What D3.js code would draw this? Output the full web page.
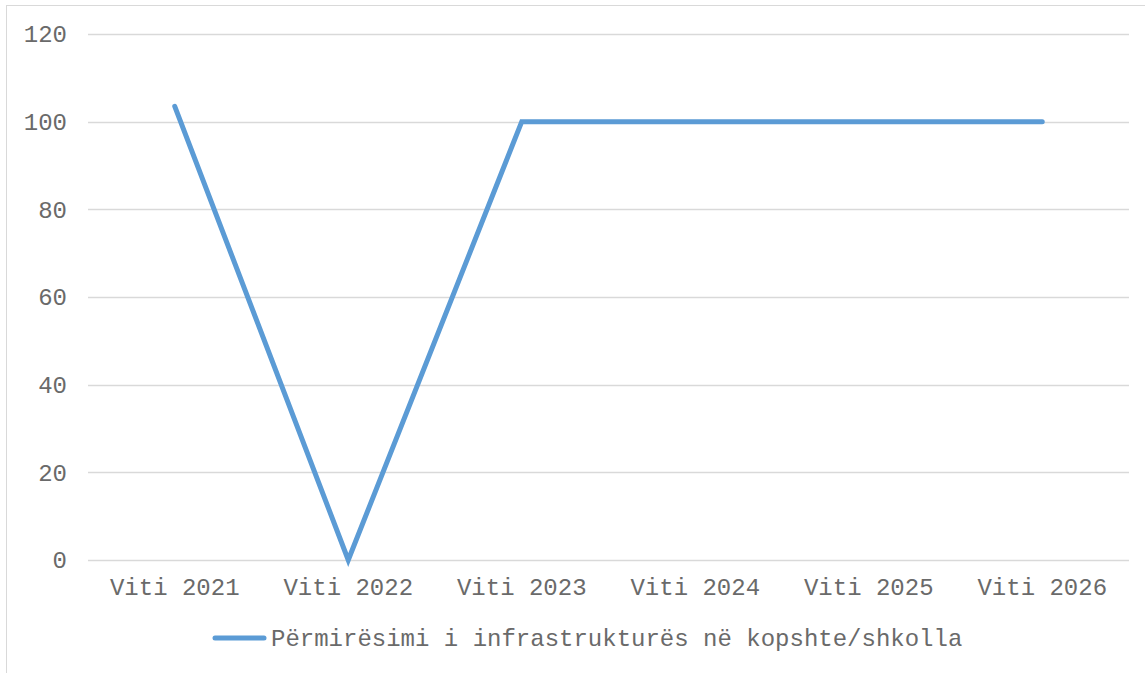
<!DOCTYPE html>
<html>
<head>
<meta charset="utf-8">
<script src="https://cdn.jsdelivr.net/npm/d3@7"></script>
<style>
  body { margin: 0; background: #fff; }
  text { font-family: "Courier New", "Nimbus Mono PS", "FreeMono", "Liberation Mono", monospace; fill: #6a6a6a; }
</style>
</head>
<body>
<div id="viz"></div>
<script>
var categories = ['Viti 2021', 'Viti 2022', 'Viti 2023', 'Viti 2024', 'Viti 2025', 'Viti 2026'];
var values = [103.5, 0, 100, 100, 100, 100];
var yTicks = [0, 20, 40, 60, 80, 100, 120];
var seriesName = 'Përmirësimi i infrastrukturës në kopshte/shkolla';

var W = 1145, H = 673;
var svg = d3.select('#viz').append('svg')
    .attr('width', W)
    .attr('height', H);

// outer frame (runs off right and bottom edges)
svg.append('rect')
    .attr('x', 6.5).attr('y', 5.5)
    .attr('width', 1200).attr('height', 700)
    .style('fill', 'none')
    .style('stroke', '#d9d9d9');

var x = d3.scalePoint().domain(categories).range([88, 1129]).padding(0.5);
var y = d3.scaleLinear().domain([0, 120]).range([560, 34]);

// gridlines
svg.selectAll('.grid').data(yTicks).enter().append('line')
    .attr('x1', 88).attr('x2', 1129)
    .attr('y1', function(d){ return Math.round(y(d)) + 0.5; })
    .attr('y2', function(d){ return Math.round(y(d)) + 0.5; })
    .style('stroke', '#d9d9d9')
    .style('stroke-width', 1.5);

// y labels
svg.selectAll('.ylab').data(yTicks).enter().append('text')
    .attr('x', 67)
    .attr('y', function(d){ return y(d); })
    .attr('dy', '0.35em')
    .attr('text-anchor', 'end')
    .style('font-size', '24px')
    .text(function(d){ return d; });

// x labels
svg.selectAll('.xlab').data(categories).enter().append('text')
    .attr('x', function(d){ return x(d); })
    .attr('y', 587)
    .attr('dy', '0.35em')
    .attr('text-anchor', 'middle')
    .style('font-size', '24px')
    .text(function(d){ return d; });

// series line
var line = d3.line()
    .x(function(d, i){ return x(categories[i]); })
    .y(function(d){ return y(d); });

svg.append('path')
    .datum(values)
    .attr('d', line)
    .style('fill', 'none')
    .style('stroke', '#5b9bd5')
    .style('stroke-width', 5)
    .style('stroke-linejoin', 'miter')
    .style('stroke-linecap', 'round');

// legend
var leg = svg.append('g').attr('transform', 'translate(213,638)');
leg.append('line')
    .attr('x1', 2).attr('x2', 51)
    .attr('y1', 0).attr('y2', 0)
    .style('stroke', '#5b9bd5')
    .style('stroke-width', 5)
    .style('stroke-linecap', 'round');
leg.append('text')
    .attr('x', 58).attr('y', 0)
    .attr('dy', '0.35em')
    .style('font-size', '24px')
    .text(seriesName);
</script>
</body>
</html>
